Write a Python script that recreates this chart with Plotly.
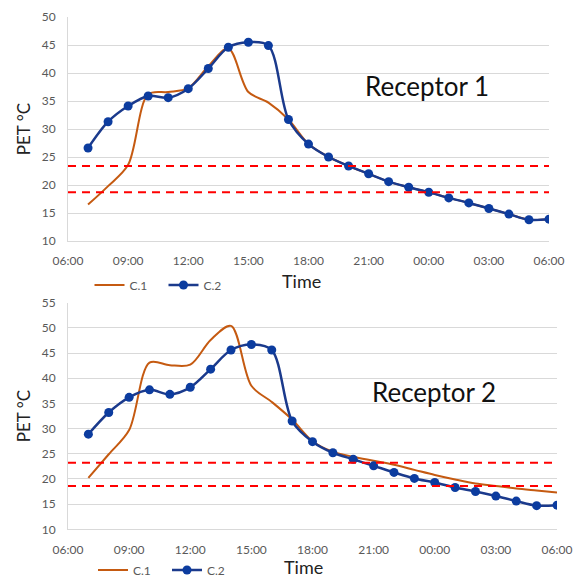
import plotly.graph_objects as go
from datetime import datetime

# ---------------- data ----------------
time_labels = ["07:00", "08:00", "09:00", "10:00", "11:00", "12:00", "13:00", "14:00",
               "15:00", "16:00", "17:00", "18:00", "19:00", "20:00", "21:00", "22:00",
               "23:00", "00:00", "01:00", "02:00", "03:00", "04:00", "05:00", "06:00"]

r1_c1 = [16.5, 19.8, 23.6, 36.2, 36.6, 37.3, 41.2, 44.4, 36.6, 34.7, 31.7, 27.3,
         25.0, 23.4, 22.0, 20.6, 19.6, 18.7, 17.7, 16.8, 15.8, 14.8, 13.8, 13.9]
r1_c2 = [26.6, 31.3, 34.1, 35.9, 35.6, 37.2, 40.8, 44.6, 45.5, 44.9, 31.7, 27.3,
         25.0, 23.4, 22.0, 20.6, 19.6, 18.7, 17.7, 16.8, 15.8, 14.8, 13.8, 13.9]

r2_c1 = [20.2, 24.9, 29.7, 43.1, 42.6, 42.7, 47.6, 50.4, 38.5, 35.3, 31.8, 27.5,
         25.4, 24.4, 23.6, 22.8, 21.8, 20.8, 19.9, 19.1, 18.6, 18.1, 17.7, 17.3]
r2_c2 = [28.9, 33.2, 36.2, 37.7, 36.8, 38.2, 41.8, 45.6, 46.7, 45.6, 31.5, 27.4,
         25.2, 23.9, 22.6, 21.3, 20.1, 19.3, 18.3, 17.5, 16.6, 15.6, 14.7, 14.8]

r1_limits = [23.4, 18.7]
r2_limits = [23.2, 18.6]

series_names = ["C.1", "C.2"]
panel_titles = ["Receptor 1", "Receptor 2"]
x_title = "Time"
y_title = "PET °C"

# ---------------- helpers ----------------
def to_dt(label):
    h, m = map(int, label.split(":"))
    day = 1 if h >= 7 else 2
    return datetime(2000, 1, day, h, m)

x = [to_dt(t) for t in time_labels]
x_start = datetime(2000, 1, 1, 6, 0)
x_end = datetime(2000, 1, 2, 6, 0)

ORANGE = "#C55A11"
BLUE_LINE = "#1B3A8C"
BLUE_MARK = "#0C3C9F"
GRID = "#D9D9D9"
TICK = "#595959"
FONT = "Lato, 'Open Sans', sans-serif"

fig = go.Figure()

panels = [
    (r1_c1, r1_c2, r1_limits, "x", "y", "legend"),
    (r2_c1, r2_c2, r2_limits, "x2", "y2", "legend2"),
]
for c1, c2, lim, xa, ya, lg in panels:
    fig.add_trace(go.Scatter(x=x, y=c1, mode="lines", name=series_names[0],
                             line=dict(color=ORANGE, width=2, shape="spline", smoothing=0.9),
                             xaxis=xa, yaxis=ya, legend=lg))
    fig.add_trace(go.Scatter(x=x, y=c2, mode="lines+markers", name=series_names[1],
                             line=dict(color=BLUE_LINE, width=2.5, shape="spline", smoothing=0.9),
                             marker=dict(color=BLUE_MARK, size=9),
                             xaxis=xa, yaxis=ya, legend=lg))
    for v in lim:
        fig.add_shape(type="line", xref=f"{xa} domain", yref=ya, x0=0, x1=1, y0=v, y1=v,
                      line=dict(color="#FF0000", width=2, dash="8px,6px"), layer="above")

W, H = 575, 578
def fx(px):
    return px / W
def fy(py):
    return 1 - py / H

xcommon = dict(type="date", range=[x_start, x_end], dtick=3 * 3600000, tick0=x_start,
               tickformat="%H:%M", showgrid=False, zeroline=False, showline=True,
               linecolor=GRID, linewidth=1, ticks="", ticklabelstandoff=9,
               automargin=False,
               tickfont=dict(family=FONT, size=12, color=TICK))
ycommon = dict(dtick=5, showgrid=True, gridcolor=GRID, gridwidth=1, zeroline=False,
               showline=True, linecolor=GRID, linewidth=1, ticks="", ticklabelstandoff=9,
               automargin=False,
               tickfont=dict(family=FONT, size=12, color=TICK),
               title=dict(text=y_title, font=dict(family=FONT, size=17, color="#222222"),
                          standoff=6))

title_font = dict(family=FONT, size=26, color="#111111")
time_font = dict(family=FONT, size=18, color="#222222")

fig.update_layout(
    width=W, height=H,
    margin=dict(l=0, r=0, t=0, b=0, autoexpand=False),
    paper_bgcolor="white", plot_bgcolor="white",
    font=dict(family=FONT),
    xaxis=dict(domain=[fx(68), fx(549)], anchor="y", **xcommon),
    yaxis=dict(domain=[fy(241), fy(17)], anchor="x", range=[10, 50], **ycommon),
    xaxis2=dict(domain=[fx(68), fx(557)], anchor="y2", **xcommon),
    yaxis2=dict(domain=[fy(529.3), fy(302.7)], anchor="x2", range=[10, 55], **ycommon),
    legend=dict(orientation="h", x=fx(89.5), y=fy(285), xanchor="left", yanchor="middle",
                entrywidth=29, font=dict(family=FONT, size=12, color=TICK),
                bgcolor="rgba(0,0,0,0)"),
    legend2=dict(orientation="h", x=fx(93), y=fy(570), xanchor="left", yanchor="middle",
                 entrywidth=29, font=dict(family=FONT, size=12, color=TICK),
                 bgcolor="rgba(0,0,0,0)"),
    showlegend=True,
    annotations=[
        dict(text=panel_titles[0], x=fx(427), y=fy(86), xref="paper", yref="paper",
             showarrow=False, xanchor="center", yanchor="middle", font=title_font),
        dict(text=panel_titles[1], x=fx(434), y=fy(392), xref="paper", yref="paper",
             showarrow=False, xanchor="center", yanchor="middle", font=title_font),
        dict(text=x_title, x=fx(301), y=fy(281), xref="paper", yref="paper",
             showarrow=False, xanchor="center", yanchor="middle", font=time_font),
        dict(text=x_title, x=fx(303), y=fy(566.5), xref="paper", yref="paper",
             showarrow=False, xanchor="center", yanchor="middle", font=time_font),
    ],
)

fig.write_html("out.html", config={"displayModeBar": False},
               post_script="document.body.style.margin='0';")
